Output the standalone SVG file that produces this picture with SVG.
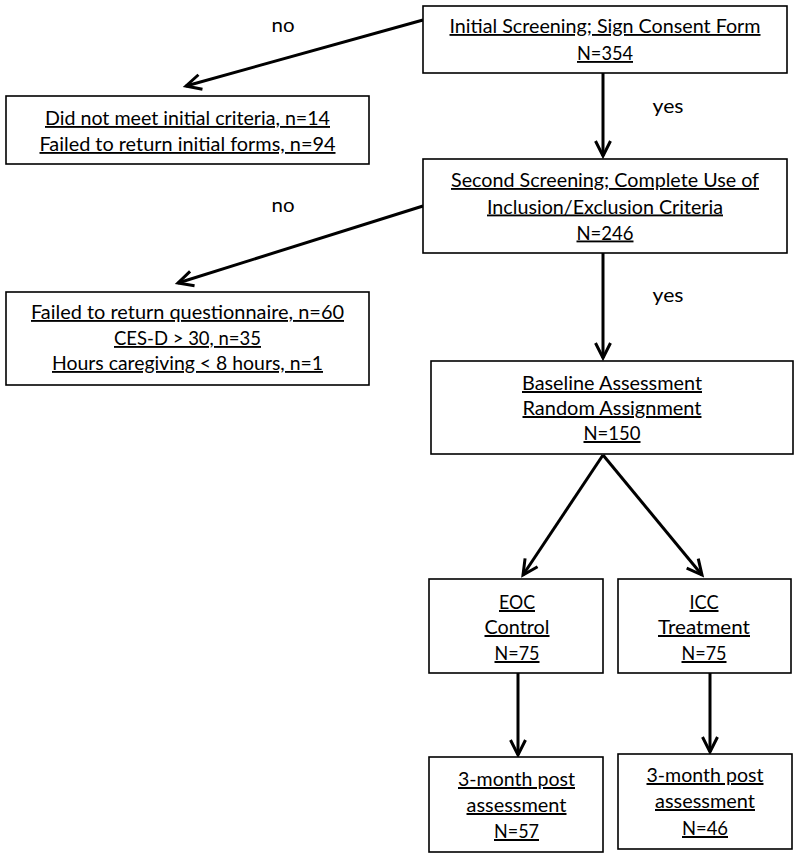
<svg xmlns="http://www.w3.org/2000/svg" width="800" height="859" viewBox="0 0 800 859">
<style>
  .box { fill: #fff; stroke: #000; stroke-width: 1.6; }
  .t { font-family: Lato, "Open Sans", "Liberation Sans", sans-serif; text-anchor: middle; fill: #000; text-decoration: underline; }
  .s { font-size: 18.5px; }
  .l { font-size: 20px; }
  .lab { font-family: Lato, "Open Sans", "Liberation Sans", sans-serif; font-size: 18.5px; text-anchor: middle; fill: #000; }
  .c { stroke: #000; stroke-width: 3; fill: none; marker-end: url(#ah); }
</style>
<defs>
  <marker id="ah" markerUnits="userSpaceOnUse" markerWidth="30" markerHeight="30" viewBox="-20 -15 30 30" refX="0" refY="0" orient="auto" overflow="visible">
    <path d="M-15,-7.5 L0,0 L-15,7.5" fill="none" stroke="#000" stroke-width="3"/>
  </marker>
</defs>
<rect width="800" height="859" fill="#fff"/>

<g id="connectors">
  <line class="c" x1="423" y1="20" x2="186" y2="86"/>
  <line class="c" x1="603" y1="73" x2="603" y2="156"/>
  <line class="c" x1="423" y1="206" x2="178" y2="283"/>
  <line class="c" x1="603" y1="253" x2="603" y2="358"/>
  <line class="c" x1="603" y1="455" x2="523" y2="575"/>
  <line class="c" x1="603" y1="455" x2="702" y2="575"/>
  <line class="c" x1="518" y1="673" x2="518" y2="755"/>
  <line class="c" x1="710" y1="673" x2="710" y2="752"/>
  <text class="lab" x="283" y="32" textLength="23" lengthAdjust="spacingAndGlyphs">no</text>
  <text class="lab" x="668" y="113" textLength="31" lengthAdjust="spacingAndGlyphs">yes</text>
  <text class="lab" x="283" y="212" textLength="23" lengthAdjust="spacingAndGlyphs">no</text>
  <text class="lab" x="668" y="302" textLength="31" lengthAdjust="spacingAndGlyphs">yes</text>
</g>

<g id="initial-screening">
  <rect class="box" x="423" y="6" width="364" height="67"/>
  <text class="t s" x="605" y="33" textLength="311" lengthAdjust="spacingAndGlyphs">Initial Screening; Sign Consent Form</text>
  <text class="t s" x="605" y="60" textLength="56" lengthAdjust="spacingAndGlyphs">N=354</text>
</g>

<g id="excluded-initial">
  <rect class="box" x="6" y="96" width="363" height="68"/>
  <text class="t s" x="187.5" y="125" textLength="285" lengthAdjust="spacingAndGlyphs">Did not meet initial criteria, n=14</text>
  <text class="t s" x="187.5" y="151" textLength="296" lengthAdjust="spacingAndGlyphs">Failed to return initial forms, n=94</text>
</g>

<g id="second-screening">
  <rect class="box" x="423" y="159" width="364" height="94"/>
  <text class="t s" x="605" y="187" textLength="308" lengthAdjust="spacingAndGlyphs">Second Screening; Complete Use of</text>
  <text class="t s" x="605" y="213.5" textLength="236" lengthAdjust="spacingAndGlyphs">Inclusion/Exclusion Criteria</text>
  <text class="t s" x="605" y="239.5" textLength="57" lengthAdjust="spacingAndGlyphs">N=246</text>
</g>

<g id="excluded-second">
  <rect class="box" x="6" y="292" width="363" height="93"/>
  <text class="t s" x="187.5" y="319" textLength="313" lengthAdjust="spacingAndGlyphs">Failed to return questionnaire, n=60</text>
  <text class="t s" x="187.5" y="345" textLength="147" lengthAdjust="spacingAndGlyphs">CES-D &gt; 30, n=35</text>
  <text class="t s" x="187.5" y="370" textLength="271" lengthAdjust="spacingAndGlyphs">Hours caregiving &lt; 8 hours, n=1</text>
</g>

<g id="baseline">
  <rect class="box" x="431" y="361" width="362" height="93"/>
  <text class="t l" x="612" y="390" textLength="180" lengthAdjust="spacingAndGlyphs">Baseline Assessment</text>
  <text class="t l" x="612" y="415" textLength="179" lengthAdjust="spacingAndGlyphs">Random Assignment</text>
  <text class="t l" x="612" y="440" textLength="57" lengthAdjust="spacingAndGlyphs">N=150</text>
</g>

<g id="eoc">
  <rect class="box" x="429" y="579" width="174" height="94"/>
  <text class="t l" x="517" y="609" textLength="36" lengthAdjust="spacingAndGlyphs">EOC</text>
  <text class="t l" x="517" y="634" textLength="65" lengthAdjust="spacingAndGlyphs">Control</text>
  <text class="t l" x="517" y="660" textLength="45" lengthAdjust="spacingAndGlyphs">N=75</text>
</g>

<g id="icc">
  <rect class="box" x="618" y="579" width="173" height="94"/>
  <text class="t l" x="704" y="609" textLength="29" lengthAdjust="spacingAndGlyphs">ICC</text>
  <text class="t l" x="704" y="634" textLength="92" lengthAdjust="spacingAndGlyphs">Treatment</text>
  <text class="t l" x="704" y="660" textLength="45" lengthAdjust="spacingAndGlyphs">N=75</text>
</g>

<g id="eoc-post">
  <rect class="box" x="429" y="757" width="174" height="95"/>
  <text class="t l" x="516.5" y="786" textLength="117" lengthAdjust="spacingAndGlyphs">3-month post</text>
  <text class="t l" x="516.5" y="812" textLength="100" lengthAdjust="spacingAndGlyphs">assessment</text>
  <text class="t l" x="516.5" y="838" textLength="45" lengthAdjust="spacingAndGlyphs">N=57</text>
</g>

<g id="icc-post">
  <rect class="box" x="618" y="754" width="174" height="95"/>
  <text class="t l" x="705" y="782" textLength="117" lengthAdjust="spacingAndGlyphs">3-month post</text>
  <text class="t l" x="705" y="808" textLength="100" lengthAdjust="spacingAndGlyphs">assessment</text>
  <text class="t l" x="705" y="835" textLength="46" lengthAdjust="spacingAndGlyphs">N=46</text>
</g>
</svg>
